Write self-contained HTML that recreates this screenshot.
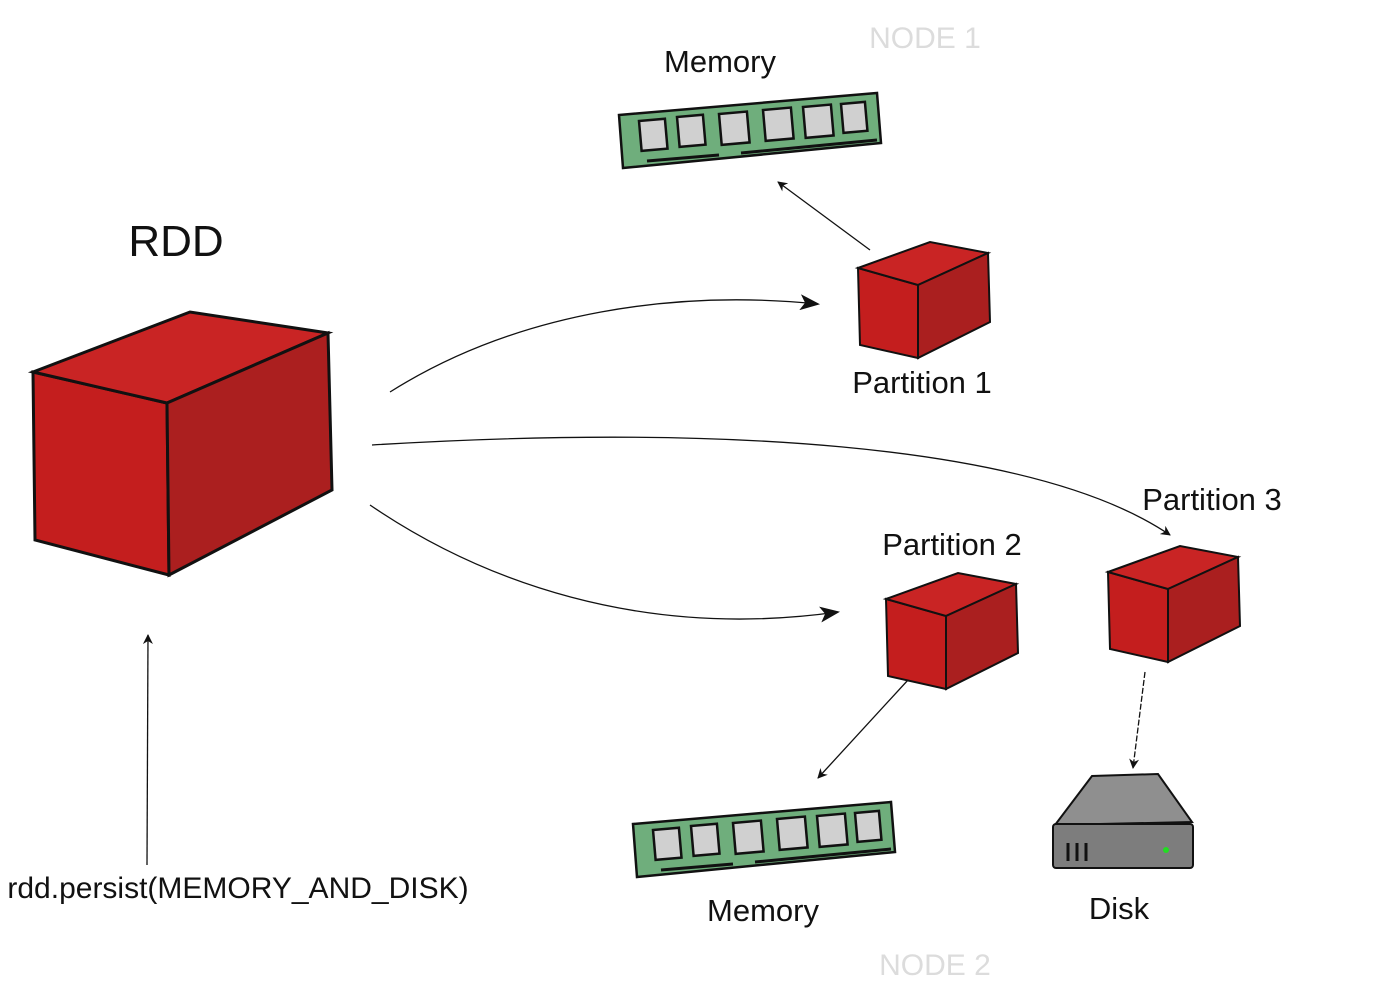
<!DOCTYPE html>
<html><head><style>
body{margin:0;background:#fff;width:1400px;height:1000px;overflow:hidden}
svg{display:block}
text{font-family:"Liberation Sans",sans-serif}
</style></head><body>
<svg width="1400" height="1000" viewBox="0 0 1400 1000" xmlns="http://www.w3.org/2000/svg">
<defs>
<marker id="a" markerWidth="10" markerHeight="10" refX="9" refY="5" orient="auto" markerUnits="userSpaceOnUse"><path d="M0,0 L10,5 L0,10 L3,5z" fill="#111"/></marker>
<marker id="b" markerWidth="20" markerHeight="16" refX="18" refY="8" orient="auto" markerUnits="userSpaceOnUse"><path d="M0,0 L20,8 L0,16 L5,8z" fill="#111"/></marker>
<g id="mem">
<polygon points="0,22 258,0 262,50 4,75" fill="#6fae7c" stroke="#111" stroke-width="2.5"/>
<g fill="#d0d0d0" stroke="#111" stroke-width="2.5">
<rect x="20" y="28" width="26" height="30" transform="rotate(-5 20 28)"/>
<rect x="58" y="24" width="26" height="30" transform="rotate(-5 58 24)"/>
<rect x="100" y="21" width="28" height="31" transform="rotate(-5 100 21)"/>
<rect x="144" y="17" width="28" height="31" transform="rotate(-5 144 17)"/>
<rect x="184" y="14" width="28" height="31" transform="rotate(-5 184 14)"/>
<rect x="222" y="11" width="24" height="29" transform="rotate(-5 222 11)"/>
</g>
<path d="M28,68 L100,62 M122,60 L258,47" stroke="#111" stroke-width="3"/>
</g>
<g id="cube">
<polygon points="0,26 60,43 60,116 2,103" fill="#c41e1e" stroke="#111" stroke-width="2"/>
<polygon points="0,26 72,0 130,11 60,43" fill="#c92424" stroke="#111" stroke-width="2"/>
<polygon points="60,43 130,11 132,80 60,116" fill="#aa1f1f" stroke="#111" stroke-width="2"/>
</g>
</defs>
<text x="925" y="48" font-size="30" fill="#dcdcdc" text-anchor="middle">NODE 1</text>
<text x="935" y="975" font-size="30" fill="#dcdcdc" text-anchor="middle">NODE 2</text>
<text x="720" y="72" font-size="31" fill="#111" text-anchor="middle">Memory</text>
<text x="176" y="256" font-size="44" fill="#111" text-anchor="middle">RDD</text>
<text x="922" y="393" font-size="31" fill="#111" text-anchor="middle">Partition 1</text>
<text x="952" y="555" font-size="31" fill="#111" text-anchor="middle">Partition 2</text>
<text x="1212" y="510" font-size="31" fill="#111" text-anchor="middle">Partition 3</text>
<text x="763" y="921" font-size="31" fill="#111" text-anchor="middle">Memory</text>
<text x="1119" y="919" font-size="31" fill="#111" text-anchor="middle">Disk</text>
<text x="238" y="898" font-size="30" fill="#111" text-anchor="middle">rdd.persist(MEMORY_AND_DISK)</text>
<use href="#mem" x="619" y="93"/>
<use href="#mem" x="633" y="802"/>
<!-- big cube -->
<polygon points="33,372 167,403 169,575 35,540" fill="#c41e1e" stroke="#111" stroke-width="3"/>
<polygon points="33,372 190,312 328,333 167,403" fill="#c92424" stroke="#111" stroke-width="3"/>
<polygon points="167,403 328,333 332,490 169,575" fill="#ab1f1f" stroke="#111" stroke-width="3"/>
<use href="#cube" x="858" y="242"/>
<use href="#cube" x="886" y="573"/>
<use href="#cube" x="1108" y="546"/>
<!-- disk -->
<polygon points="1055,825 1092,776 1158,774 1192,822" fill="#8f8f8f" stroke="#111" stroke-width="2"/>
<rect x="1053" y="824" width="140" height="44" rx="3" fill="#7d7d7d" stroke="#111" stroke-width="2"/>
<path d="M1068,843v18M1077,843v18M1086,843v18" stroke="#111" stroke-width="3"/>
<circle cx="1166" cy="850" r="3" fill="#2d2"/>
<!-- connectors -->
<path d="M390,392 C520,310 680,290 818,304" fill="none" stroke="#111" stroke-width="1.3" marker-end="url(#b)"/>
<path d="M372,445 C700,425 1030,440 1170,535" fill="none" stroke="#111" stroke-width="1.3" marker-end="url(#a)"/>
<path d="M370,505 C480,580 640,640 838,612" fill="none" stroke="#111" stroke-width="1.3" marker-end="url(#b)"/>
<path d="M870,250 L778,182" fill="none" stroke="#111" stroke-width="1.3" marker-end="url(#a)"/>
<path d="M908,680 L818,778" fill="none" stroke="#111" stroke-width="1.3" marker-end="url(#a)"/>
<path d="M1145,672 L1133,768" fill="none" stroke="#111" stroke-width="1.3" stroke-dasharray="6 2" marker-end="url(#a)"/>
<path d="M147,865 L148,635" fill="none" stroke="#111" stroke-width="1.3" marker-end="url(#a)"/>
</svg>
</body></html>
